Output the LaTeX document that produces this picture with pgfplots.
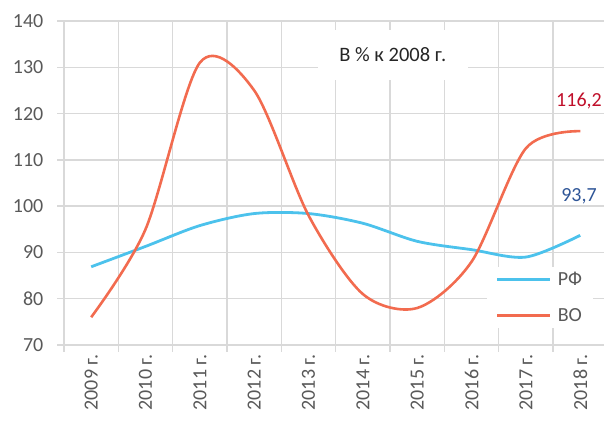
\documentclass[border=0pt]{standalone}
\usepackage{pgfplots}
\pgfplotsset{compat=1.18}
\usepackage{fontspec}
\setmainfont{Carlito}
\definecolor{rfblue}{HTML}{4CC2EC}
\definecolor{vored}{HTML}{F26B4F}
\definecolor{gridgray}{HTML}{D9D9D9}
\definecolor{ticktext}{HTML}{595959}
\definecolor{lblred}{HTML}{C00F2A}
\definecolor{lblblue}{HTML}{2E5597}
\newcommand{\chartfont}{\fontsize{20}{24}\selectfont}

\begin{document}
\begin{tikzpicture}
\useasboundingbox (-64pt,-76pt) rectangle (540pt,345pt);
\begin{axis}[
    scale only axis,
    width=540pt, height=324pt,
    xmin=-0.5, xmax=9.437,
    ymin=70, ymax=140,
    ytick={70,80,...,140},
    xtick={-0.5,0.5,...,8.5},
    xticklabels={},
    extra x ticks={0,...,9},
    extra x tick labels={2009 г.,2010 г.,2011 г.,2012 г.,2013 г.,2014 г.,2015 г.,2016 г.,2017 г.,2018 г.},
    extra x tick style={grid=none, major tick length=0pt},
    grid=major,
    grid style={draw=gridgray, line width=1.3pt},
    axis x line*=bottom, axis y line*=left,
    axis line style={draw=gridgray, line width=1.3pt},
    tick align=outside,
    xtick pos=bottom, ytick pos=left,
    major tick length=6.5pt,
    major tick style={draw=gridgray, line width=1.3pt},
    /pgf/number format/assume math mode=true,
    tick label style={font=\chartfont, text=ticktext},
    yticklabel style={anchor=east, inner sep=0pt, xshift=-14pt},
    xticklabel style={font=\chartfont, text=ticktext, yshift=-9pt, rotate=90, anchor=east, inner sep=0pt},
    legend style={at={(axis cs:7.28,86.8)}, anchor=north west, draw=none, fill=white,
        font=\chartfont, text=ticktext,
        nodes={font=\chartfont, text=ticktext},
        row sep=17pt, inner xsep=9pt, inner ysep=3pt,
        /tikz/every odd column/.append style={column sep=4pt}},
    legend cell align=left,
    legend image code/.code={\draw[#1, line width=2.8pt] (0pt,0.3pt) -- (53pt,0.3pt);},
    clip=false,
]
\addplot[rfblue, line width=2.8pt, smooth] coordinates {
  (0,86.9) (1,91.3) (2,95.8) (3,98.4) (4,98.4) (5,96.3) (6,92.4) (7,90.6) (8,89.0) (9,93.7)};
\addlegendentry{\chartfont РФ}
\addplot[vored, line width=2.6pt, smooth] coordinates {
  (0,76.0) (1,95.0) (2,131.0) (3,125.0) (4,98.0) (5,81.0) (6,78.0) (7,88.0) (8,112.5) (9,116.2)};
\addlegendentry{\chartfont ВО}
\node[font=\chartfont, text=lblred] at (axis cs:8.977,122.7) {116,2};
\node[font=\chartfont, text=lblblue] at (axis cs:8.977,102.2) {93,7};
\node[fill=white, minimum width=150pt, minimum height=50pt,
      font=\fontsize{20.5}{24}\selectfont, text=black!85] at (axis cs:5.55,132.65) {В \% к 2008 г.};
\end{axis}
\end{tikzpicture}
\end{document}
